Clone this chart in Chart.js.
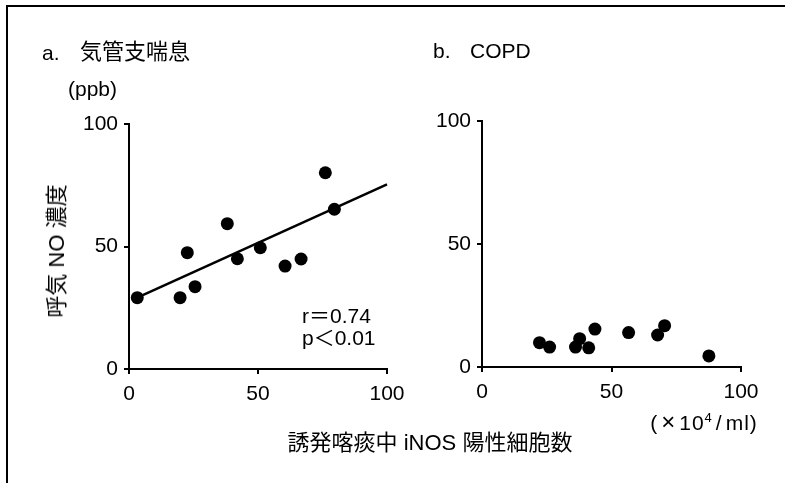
<!DOCTYPE html>
<html lang="ja">
<head>
<meta charset="UTF-8">
<title>誘発喀痰中 iNOS 陽性細胞数と呼気 NO 濃度</title>
<script src="https://cdn.jsdelivr.net/npm/chart.js"></script>
<style>
  body { margin: 0; background: #fff; color: #000;
         font-family: 'Liberation Sans', 'Noto Sans CJK JP', sans-serif; }
  #wrap { position: relative; width: 785px; height: 483px; overflow: hidden; }
  .frame { position: absolute; left: 6px; top: 5px; width: 800px; height: 500px;
           border-top: 2px solid #000; border-left: 2px solid #000; }
  canvas { position: absolute; top: 0; }
  .txt { position: absolute; font-size: 21px; line-height: 1; white-space: nowrap; }
  .jp { font-size: 22px; }
</style>
</head>
<body>
<div id="wrap">
  <div class="frame"></div>
  <canvas id="asthma" width="430" height="483" style="left:0"></canvas>
  <canvas id="copd" width="385" height="483" style="left:400px"></canvas>

  <!-- panel titles and labels -->
  <div class="txt" style="left:42px;top:42px">a.</div>
  <div class="txt jp" style="left:80px;top:41px">気管支喘息</div>
  <div class="txt" style="left:433px;top:40px">b.</div>
  <div class="txt" style="left:470px;top:40px">COPD</div>
  <div class="txt" style="left:68px;top:78px">(ppb)</div>
  <div class="txt" style="left:302px;top:305px">r＝0.74</div>
  <div class="txt" style="left:302px;top:327px">p＜0.01</div>
  <div class="txt jp" style="left:57px;top:251px;transform:translate(-50%,-50%) rotate(-90deg)">呼気 NO 濃度</div>
  <div class="txt jp" style="left:430px;top:443px;transform:translate(-50%,-50%)">誘発喀痰中 iNOS 陽性細胞数</div>
  <div class="txt" style="left:704px;top:422px;transform:translate(-50%,-50%);letter-spacing:1px">(<span style="font-size:24px;margin:0 3px">×</span>10<sup style="font-size:13px">4</sup><span style="margin:0 3px">/</span>ml)</div>
</div>

<script>
  // a. 気管支喘息 (bronchial asthma)
  const asthmaX = [3.2, 19.8, 22.6, 25.6, 38.1, 42.0, 50.9, 60.5, 66.7, 76.1, 79.6];
  const asthmaY = [29.1, 29.1, 47.5, 33.6, 59.3, 45.0, 49.5, 42.0, 44.9, 80.1, 65.2];

  // regression line end points
  const fitX = [3.2, 100];
  const fitY = [29.1, 75.4];

  // b. COPD
  const copdX = [22.2, 26.1, 36.1, 37.7, 41.2, 43.6, 56.6, 67.8, 70.5, 87.6];
  const copdY = [9.9, 8.1, 8.1, 11.5, 7.8, 15.4, 14.0, 13.0, 16.8, 4.5];

  const axisTicks = [0, 50, 100];

  function toPoints(xs, ys) {
    return xs.map((x, i) => ({ x: x, y: ys[i] }));
  }

  function axis(pad, fitFn) {
    return {
      type: 'linear',
      min: 0,
      max: 100,
      afterBuildTicks: s => { s.ticks = axisTicks.map(v => ({ value: v })); },
      ticks: { color: '#000', font: { size: 21, family: "'Liberation Sans', sans-serif" }, padding: pad },
      grid: { drawOnChartArea: false, drawTicks: true, tickLength: 5, color: '#000', lineWidth: 2 },
      border: { display: true, color: '#000', width: 2 },
      afterFit: fitFn
    };
  }

  function makeChart(id, datasets, pad, yWidth, xHeight) {
    return new Chart(document.getElementById(id), {
      type: 'scatter',
      data: { datasets: datasets },
      options: {
        responsive: false,
        animation: false,
        layout: { padding: pad },
        plugins: { legend: { display: false }, tooltip: { enabled: false } },
        scales: {
          x: axis(8, s => { s.height = xHeight; }),
          y: axis(6, s => { s.width = yWidth; })
        }
      }
    });
  }

  const dotStyle = { pointRadius: 6.5, pointBackgroundColor: '#000', pointBorderWidth: 0, clip: false };

  makeChart('asthma', [
    Object.assign({ data: toPoints(asthmaX, asthmaY) }, dotStyle),
    { type: 'line', data: toPoints(fitX, fitY), borderColor: '#000', borderWidth: 2.5, pointRadius: 0, clip: false }
  ], { left: 0, right: 43, top: 124, bottom: 54 }, 129, 60);

  makeChart('copd', [
    Object.assign({ data: toPoints(copdX, copdY) }, dotStyle)
  ], { left: 0, right: 44, top: 121, bottom: 56 }, 82, 60);
</script>
</body>
</html>
